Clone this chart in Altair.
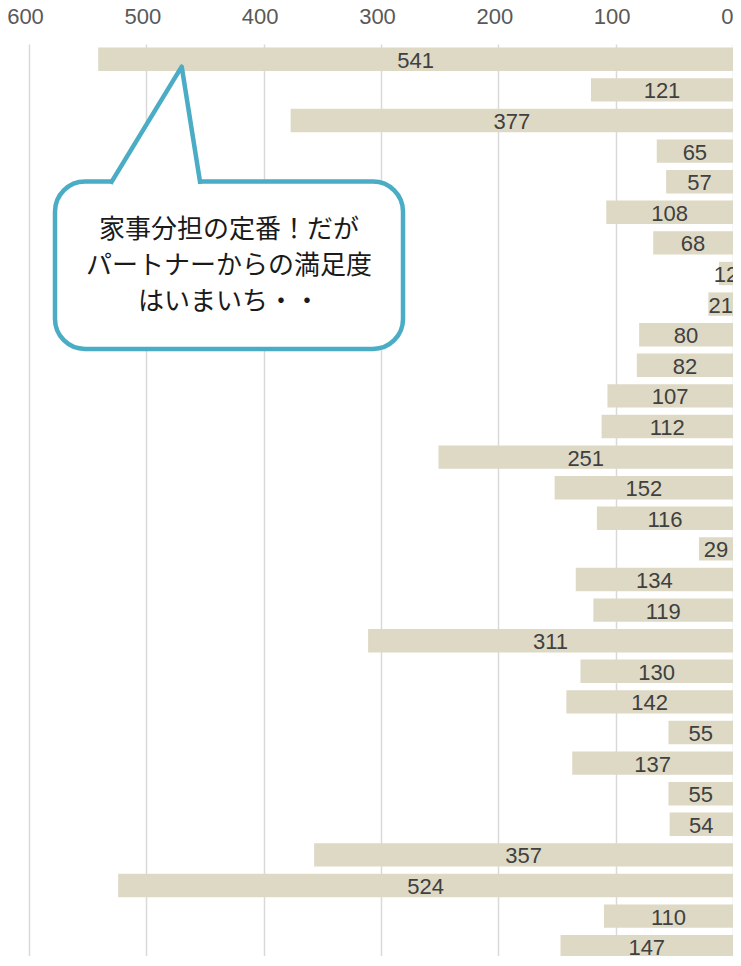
import altair as alt
import pandas as pd

# ---- data ----
categories = ["項目01", "項目02", "項目03", "項目04", "項目05", "項目06", "項目07", "項目08",
              "項目09", "項目10", "項目11", "項目12", "項目13", "項目14", "項目15", "項目16",
              "項目17", "項目18", "項目19", "項目20", "項目21", "項目22", "項目23", "項目24",
              "項目25", "項目26", "項目27", "項目28", "項目29", "項目30"]
values = [541, 121, 377, 65, 57, 108, 68, 12, 21, 80, 82, 107, 112, 251, 152,
          116, 29, 134, 119, 311, 130, 142, 55, 137, 55, 54, 357, 524, 110, 147]
x_ticks = [0, 100, 200, 300, 400, 500, 600]
callout_lines = ["家事分担の定番！だが", "パートナーからの満足度", "はいまいち・・"]

# ---- layout / style ----
W, H = 704, 912          # svg must fit inside the 741x966 window incl. 8px page margins
BAND_RANGE = 918         # bands run slightly past the visible bottom
BAR = "#DDD9C4"
TEAL = "#4BACC6"

df = pd.DataFrame({"cat": categories, "value": values})

xscale = alt.Scale(domain=[0, 600], reverse=True, nice=False)
yscale = alt.Scale(paddingInner=0.236, paddingOuter=0.118, range=[0, BAND_RANGE])

bars = alt.Chart(df).mark_bar(color=BAR).encode(
    x=alt.X("value:Q", scale=xscale,
            axis=alt.Axis(orient="top", values=x_ticks, grid=True, domain=False, ticks=False,
                          labelFontSize=22, labelColor="#595959", labelFont="Liberation Sans",
                          labelPadding=16,
                          labelOffset={"condition": {"test": "datum.value == 0", "value": 0}, "value": -4},
                          labelAlign={"condition": {"test": "datum.value == 0", "value": "right"}, "value": "center"},
                          labelFlush=False,
                          gridColor="#D9D9D9", gridWidth=1.5, title=None)),
    y=alt.Y("cat:N", sort=categories, scale=yscale, axis=None),
)

labels = alt.Chart(df).transform_calculate(mid="datum.value / 2").mark_text(
    fontSize=22, color="#404040", font="Liberation Sans", baseline="middle", dy=1.5
).encode(
    x=alt.X("mid:Q", scale=xscale),
    y=alt.Y("cat:N", sort=categories, scale=yscale),
    text=alt.Text("value:Q"),
)

one = pd.DataFrame({"a": [0]})

# callout box
box = alt.Chart(one).mark_rect(fill="white", stroke=TEAL, strokeWidth=4.5, cornerRadius=30).encode(
    x=alt.value(26), x2=alt.value(374), y=alt.value(137.5), y2=alt.value(305)
)

tail_df = pd.DataFrame({"px": [82.7, 152.7, 171.0], "py": [137.7, 22.7, 137.7], "k": [0, 1, 2]})

tail_fill = alt.Chart(tail_df).mark_area(fill="white", opacity=1).encode(
    x=alt.X("px:Q", scale=None),
    y=alt.Y("py:Q", scale=None, stack=None),
    y2=alt.value(141.5),
)

tail_line = alt.Chart(tail_df).mark_line(color=TEAL, strokeWidth=4.5, strokeJoin="round",
                                         strokeCap="square").encode(
    x=alt.X("px:Q", scale=None),
    y=alt.Y("py:Q", scale=None),
    order=alt.Order("k:Q"),
)

text = alt.Chart(one).mark_text(
    text=callout_lines, lineHeight=36, fontSize=26, font="Noto Sans CJK JP",
    color="#1a1a1a", align="center", baseline="middle"
).encode(x=alt.value(200), y=alt.value(186))

chart = alt.layer(bars, labels, box, tail_fill, tail_line, text).properties(
    width=W, height=H,
    autosize=alt.AutoSizeParams(type="none"),
    padding={"left": 21, "top": 36, "right": 0, "bottom": 0},
).configure_view(stroke=None)

chart.save("out.html", embed_options={"renderer": "svg", "actions": False})
